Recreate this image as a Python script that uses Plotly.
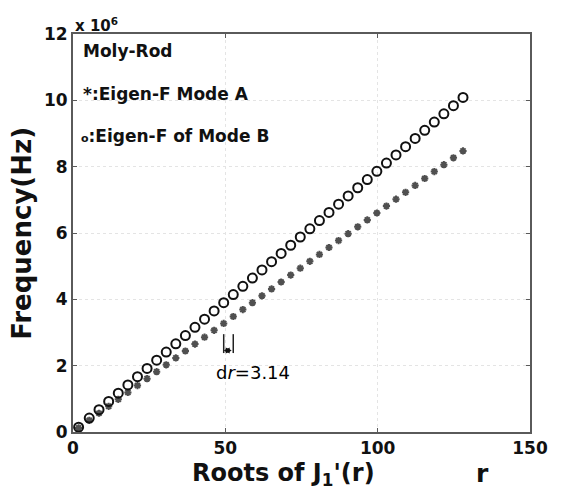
import plotly.graph_objects as go

# Roots of J1'(r) used as the abscissa for both modes
roots = [1.8412, 5.3314, 8.5363, 11.7060, 14.8636, 18.0155, 21.1644, 24.3113,
         27.4571, 30.6019, 33.7462, 36.8900, 40.0334, 43.1766, 46.3196, 49.4624,
         52.6050, 55.7476, 58.8900, 62.0323, 65.1746, 68.3168, 71.4590, 74.6011,
         77.7431, 80.8851, 84.0271, 87.1690, 90.3109, 93.4528, 96.5946, 99.7364,
         102.8782, 106.0200, 109.1618, 112.3035, 115.4453, 118.5870, 121.7287,
         124.8704, 128.0121]

# Eigen-frequencies in units of 10^6 Hz
mode_b = [0.145, 0.420, 0.673, 0.922, 1.171, 1.420, 1.668, 1.916, 2.164, 2.411,
          2.659, 2.907, 3.155, 3.402, 3.650, 3.898, 4.145, 4.393, 4.641, 4.888,
          5.136, 5.383, 5.631, 5.879, 6.126, 6.374, 6.621, 6.869, 7.117, 7.364,
          7.612, 7.859, 8.107, 8.354, 8.602, 8.850, 9.097, 9.345, 9.592, 9.840,
          10.087]
mode_a = [0.122, 0.353, 0.565, 0.775, 0.984, 1.193, 1.401, 1.609, 1.818, 2.026,
          2.234, 2.442, 2.650, 2.858, 3.066, 3.274, 3.482, 3.691, 3.899, 4.107,
          4.315, 4.523, 4.731, 4.939, 5.147, 5.355, 5.563, 5.771, 5.979, 6.187,
          6.395, 6.603, 6.811, 7.019, 7.227, 7.435, 7.643, 7.851, 8.059, 8.267,
          8.475]

x_ticks = [0, 50, 100, 150]
y_ticks = [0, 2, 4, 6, 8, 10, 12]

# root spacing marker
dr_start = 49.4624
dr_value = 3.14

FONT = "DejaVu Sans, Arial, sans-serif"
INK = "#111111"

fig = go.Figure()
fig.add_trace(go.Scatter(
    x=roots, y=mode_a, mode="markers", name="Mode A",
    marker=dict(symbol="asterisk-open", size=6, color="#505050",
                line=dict(color="#505050", width=2)),
))
fig.add_trace(go.Scatter(
    x=roots, y=mode_b, mode="markers", name="Mode B",
    marker=dict(symbol="circle-open", size=9, color=INK,
                line=dict(color=INK, width=2)),
))

axis_common = dict(
    showline=True, linecolor="#5a5a5a", linewidth=2, mirror="ticks",
    ticks="inside", ticklen=4, tickcolor="#5a5a5a", tickwidth=1,
    showgrid=True, gridcolor="#e4e4e4", griddash="dot", gridwidth=1,
    zeroline=False,
    tickfont=dict(family=FONT, size=17, color=INK, weight="bold"),
)

fig.update_xaxes(range=[0, 150], tickvals=x_ticks, **axis_common)
fig.update_yaxes(range=[0, 12], tickvals=y_ticks, **axis_common)

# dr bracket: two verticals one root spacing apart with a double arrow
x1 = dr_start + dr_value
fig.add_shape(type="line", x0=dr_start, x1=dr_start, y0=2.38, y1=2.95,
              line=dict(color="#222", width=1.5))
fig.add_shape(type="line", x0=x1, x1=x1, y0=2.38, y1=2.95,
              line=dict(color="#222", width=1.5))
fig.add_annotation(x=dr_start, y=2.46, ax=x1, ay=2.46, xref="x", yref="y",
                   axref="x", ayref="y", showarrow=True, arrowhead=2,
                   arrowside="end+start", arrowsize=0.6, arrowwidth=2,
                   arrowcolor=INK, text="")
fig.add_annotation(x=dr_start - 3.3, y=1.80, xref="x", yref="y", showarrow=False,
                   xanchor="left", yanchor="middle",
                   text="d<i>r</i>=3.14",
                   font=dict(family=FONT, size=18, color="#000"))

label_font = dict(family=FONT, size=17, color=INK, weight="bold")
fig.add_annotation(x=2.5, y=11.49, xref="x", yref="y", showarrow=False,
                   xanchor="left", text="Moly-Rod", font=label_font)
fig.add_annotation(x=2.5, y=10.19, xref="x", yref="y", showarrow=False,
                   xanchor="left", text="*:Eigen-F Mode A", font=label_font)
fig.add_annotation(x=2, y=8.92, xref="x", yref="y", showarrow=False,
                   xanchor="left",
                   text="<span style='font-size:11px'>o</span>:Eigen-F of Mode B",
                   font=label_font)

# axis multiplier
fig.add_annotation(x=0, y=1.0, xref="paper", yref="paper", showarrow=False,
                   xanchor="left", yanchor="bottom", yshift=-3,
                   text="x 10<sup>6</sup>",
                   font=dict(family=FONT, size=15, color=INK, weight="bold"))

# axis titles
fig.add_annotation(x=0.46, y=-0.108, xref="paper", yref="paper", showarrow=False,
                   xanchor="center", yanchor="middle",
                   text="Roots of J<sub>1</sub>'(r)",
                   font=dict(family=FONT, size=24, color=INK, weight="bold"))
fig.add_annotation(x=0.895, y=-0.105, xref="paper", yref="paper", showarrow=False,
                   xanchor="center", yanchor="middle", text="r",
                   font=dict(family=FONT, size=25, color=INK, weight="bold"))
fig.add_annotation(x=-0.112, y=0.50, xref="paper", yref="paper", showarrow=False,
                   xanchor="center", yanchor="middle", textangle=-90,
                   text="Frequency(Hz)",
                   font=dict(family=FONT, size=26, color=INK, weight="bold"))

fig.update_layout(
    width=561, height=490,
    margin=dict(l=73, r=31, t=34, b=58),
    paper_bgcolor="white", plot_bgcolor="white",
    showlegend=False,
    font=dict(family=FONT),
)

fig.write_html("out.html")
